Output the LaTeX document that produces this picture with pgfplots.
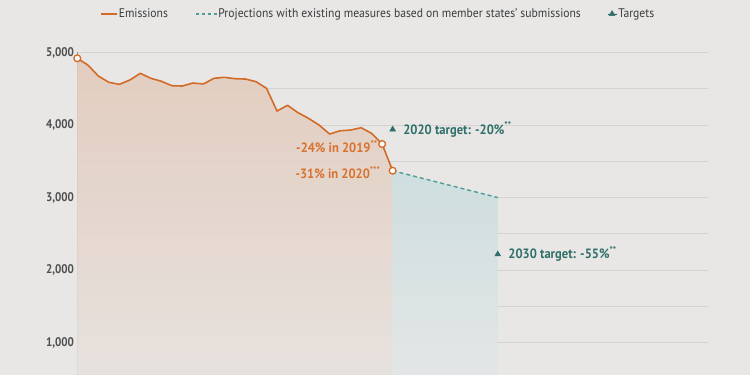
\documentclass[border=0pt]{standalone}
\usepackage{fontspec}
\setmainfont{PT Sans}[FakeStretch=0.93]
\usepackage{pgfplots}
\pgfplotsset{compat=1.18}
\definecolor{bgc}{HTML}{E8E7E6}
\definecolor{gridc}{HTML}{D5D3D1}
\definecolor{axisc}{HTML}{8E8C8A}
\definecolor{tickc}{HTML}{4E4E4E}
\definecolor{legc}{HTML}{3C3C3C}
\definecolor{emis}{HTML}{D26B28}
\definecolor{emistxt}{HTML}{D8722F}
\definecolor{proj}{HTML}{4E9D97}
\definecolor{targ}{HTML}{2F6F69}
\definecolor{ofilltop}{HTML}{E3CCBE}
\definecolor{ofillbot}{HTML}{E8E6E5}
\definecolor{tfilltop}{HTML}{CEDEDE}
\definecolor{tfillbot}{HTML}{E7E8E8}
\pgfplotsset{
  legline/.style={legend image code/.code={\draw[##1] (0pt,0pt) -- (12pt,0pt); \path (0pt,0pt) -- (16pt,0pt);}},
  legdash/.style={legend image code/.code={\draw[##1, dash pattern=on 3pt off 3pt] (0pt,0pt) -- (21pt,0pt);}},
  legmark/.style={legend image code/.code={\draw[##1] plot coordinates {(4pt,0pt)}; \path (0pt,0pt) -- (9pt,0pt);}},
}
\pgfplotstableread{
year value
1990 4920
1991 4828
1992 4676
1993 4589
1994 4561
1995 4621
1996 4713
1997 4644
1998 4603
1999 4542
2000 4538
2001 4579
2002 4566
2003 4644
2004 4658
2005 4639
2006 4634
2007 4598
2008 4506
2009 4193
2010 4272
2011 4170
2012 4092
2013 4000
2014 3876
2015 3921
2016 3931
2017 3963
2018 3885
2019 3738
2020 3370
}\emissions
\pgfplotstableread{
year value
2020 3370
2025 3185
2030 3000
}\projection
\pgfplotstableread{
year value
2020 3940
2030 2218
}\targets
\pgfplotstableread{
year value
1990 4920
2019 3738
2020 3370
}\highlights
\begin{document}
\begin{tikzpicture}[x=1pt,y=1pt]
\fill[bgc] (0,0) rectangle (750,375);
\path[use as bounding box] (0,0) rectangle (750,375);
\begin{axis}[
  at={(77.3pt,0pt)}, anchor=south west,
  width=630.7pt, height=322.5pt, scale only axis,
  xmin=1990, xmax=2050, ymin=554, ymax=5000,
  axis x line=none, axis y line*=left,
  y axis line style={draw=axisc, line width=0.8pt},
  ytick={1000,2000,3000,4000,5000},
  minor ytick={1500,2500,3500,4500},
  ymajorgrids, yminorgrids,
  major grid style={draw=gridc, line width=0.7pt},
  minor grid style={draw=gridc, line width=0.7pt},
  major tick length=0pt, minor tick length=0pt,
  yticklabel style={font=\fontsize{12.5}{14}\selectfont\bfseries, text=tickc, xscale=0.95},
  /pgf/number format/1000 sep={,},
  /pgf/number format/assume math mode=true,
  legend style={at={(rel axis cs:0.036,1)}, anchor=west, yshift=38.5pt,
    draw=none, fill=none, inner sep=0pt,
    font=\fontsize{12.5}{14}\selectfont, text=legc,
    nodes={inner sep=1pt},
    /tikz/every even column/.append style={column sep=26pt}},
  legend columns=3,
  legend cell align=left,
]
\addplot[draw=none, fill=ofilltop, fill opacity=0.8, top color=ofilltop, bottom color=ofillbot, forget plot]
  table[x=year, y=value] {\emissions} \closedcycle;
\addplot[draw=none, fill=tfilltop, fill opacity=0.8, top color=tfilltop, bottom color=tfillbot, forget plot]
  table[x=year, y=value] {\projection} \closedcycle;
\addplot[emis, line width=1.6pt, line join=round, no marks, legline]
  table[x=year, y=value] {\emissions};
\addlegendentry{Emissions}
\addplot[proj, line width=1.4pt, dash pattern=on 4pt off 3pt, no marks, legdash]
  table[x=year, y=value] {\projection};
\addlegendentry{Projections with existing measures based on member states' submissions}
\addplot[only marks, mark=triangle*, mark size=3.4pt, draw=targ, fill=targ, legmark]
  table[x=year, y=value] {\targets};
\addlegendentry{Targets}
\addplot[only marks, mark=*, mark size=3.4pt, forget plot,
  mark options={draw=emis, fill=white, line width=1.3pt}]
  table[x=year, y=value] {\highlights};
\node[anchor=east, inner sep=0pt, text=emistxt, font=\fontsize{13.5}{15}\selectfont\bfseries]
  at (axis cs:2018.6,3700) {-24\% in 2019\textsuperscript{**}};
\node[anchor=east, inner sep=0pt, text=emistxt, font=\fontsize{13.5}{15}\selectfont\bfseries]
  at (axis cs:2018.85,3342) {-31\% in 2020\textsuperscript{***}};
\node[anchor=west, inner sep=0pt, text=targ, font=\fontsize{13.5}{15}\selectfont\bfseries]
  at (axis cs:2021.0,3940) {2020 target: -20\%\textsuperscript{**}};
\node[anchor=west, inner sep=0pt, text=targ, font=\fontsize{13.5}{15}\selectfont\bfseries]
  at (axis cs:2031.0,2218) {2030 target: -55\%\textsuperscript{**}};
\end{axis}
\end{tikzpicture}
\end{document}
